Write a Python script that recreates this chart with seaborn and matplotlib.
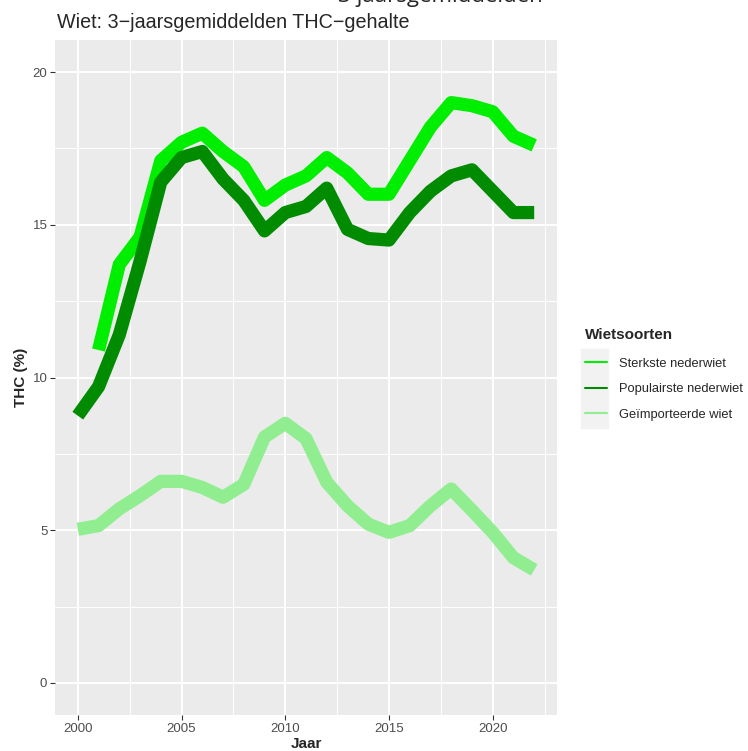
import pandas as pd
import seaborn as sns
import matplotlib.pyplot as plt
from matplotlib.lines import Line2D
from matplotlib.patches import Rectangle

# THC-gehalte, 3-jaarsgemiddelden
years_sterk = list(range(2001, 2023))
sterkste = [10.9, 13.7, 14.6, 17.1, 17.7, 18.0, 17.4, 16.9, 15.8, 16.3, 16.6,
            17.2, 16.7, 16.0, 16.0, 17.1, 18.2, 19.0, 18.9, 18.7, 17.9, 17.6]

years = list(range(2000, 2023))
populairste = [8.75, 9.7, 11.4, 13.8, 16.4, 17.2, 17.4, 16.5, 15.8, 14.8, 15.4, 15.6,
               16.2, 14.85, 14.55, 14.5, 15.4, 16.1, 16.6, 16.8, 16.1, 15.4, 15.4]
geimporteerd = [5.03, 5.15, 5.7, 6.13, 6.6, 6.6, 6.4, 6.08, 6.5, 8.05, 8.5, 8.0,
                6.57, 5.8, 5.2, 4.93, 5.15, 5.8, 6.35, 5.65, 4.93, 4.1, 3.7]

soorten = ["Sterkste nederwiet", "Populairste nederwiet", "Geïmporteerde wiet"]
kleuren = {"Sterkste nederwiet": "#00EE00",
           "Populairste nederwiet": "#008B00",
           "Geïmporteerde wiet": "#90EE90"}

df = pd.concat([
    pd.DataFrame({"Jaar": years_sterk, "THC": sterkste, "soort": soorten[0]}),
    pd.DataFrame({"Jaar": years, "THC": populairste, "soort": soorten[1]}),
    pd.DataFrame({"Jaar": years, "THC": geimporteerd, "soort": soorten[2]}),
], ignore_index=True)

sns.set_style("darkgrid", {
    "axes.facecolor": "#EBEBEB",
    "grid.color": "white",
})
plt.rcParams["font.family"] = ["Liberation Sans", "DejaVu Sans"]

fig = plt.figure(figsize=(7.48, 7.51), dpi=100)
ax = fig.add_axes([55 / 748, 1 - 715 / 751, (557 - 55) / 748, (715 - 40) / 751])

sns.lineplot(data=df, x="Jaar", y="THC", hue="soort", hue_order=soorten,
             palette=kleuren, linewidth=9.5, legend=False, ax=ax,
             solid_capstyle="butt", solid_joinstyle="round")

ax.set_xlim(1998.9, 2023.1)
ax.set_ylim(-1.05, 21.05)
ax.set_xticks([2000, 2005, 2010, 2015, 2020])
ax.set_yticks([0, 5, 10, 15, 20])
ax.set_xticks([2002.5, 2007.5, 2012.5, 2017.5, 2022.5], minor=True)
ax.set_yticks([2.5, 7.5, 12.5, 17.5], minor=True)
ax.grid(which="major", color="white", linewidth=1.4)
ax.grid(which="minor", color="white", linewidth=0.7)
ax.set_axisbelow(True)
for s in ax.spines.values():
    s.set_visible(False)
ax.tick_params(which="major", length=3.5, width=0.8, color="#333333",
               labelcolor="#4D4D4D", labelsize=9.5, pad=2, bottom=True, left=True)
ax.tick_params(which="minor", length=0)

ax.set_xlabel("Jaar", fontsize=11, fontweight="bold", labelpad=2)
ax.set_ylabel("THC (%)", fontsize=11, fontweight="bold", labelpad=3)

fig.text(57 / 748, 1 - 28 / 751, "Wiet: 3\u2212jaarsgemiddelden THC\u2212gehalte",
         fontsize=14.2, ha="left", va="baseline")
# afgesneden tekst bovenaan (in het origineel ook half buiten beeld)
fig.text(543 / 748, 1 - 2 / 751, "3-jaarsgemiddelden", fontsize=16,
         family="Open Sans", ha="right", va="baseline")

# legenda
handles = [Line2D([0], [0], color=kleuren[s], linewidth=1.5) for s in soorten]
fig.patches.append(Rectangle((581 / 748, 1 - 428 / 751), 27 / 748, 79 / 751,
                             transform=fig.transFigure, color="#F2F2F2", zorder=0))
leg = fig.legend(handles, soorten, loc="upper left",
                 bbox_to_anchor=(579 / 748, 1 - 322 / 751), frameon=False,
                 title="Wietsoorten", fontsize=9.3, title_fontsize=11,
                 handlelength=1.7, handletextpad=0.9, labelspacing=1.05,
                 borderpad=0, alignment="left")
leg.get_title().set_fontweight("bold")
leg._legend_box.sep = 11

fig.savefig("out.png", dpi=100)
